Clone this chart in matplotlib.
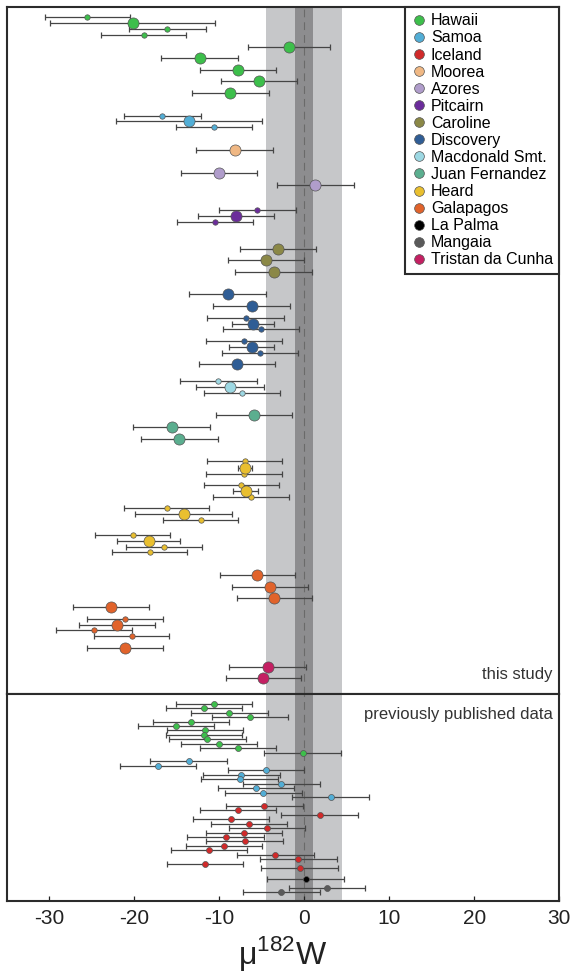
import matplotlib
matplotlib.use('Agg')
import matplotlib.pyplot as plt
from matplotlib.lines import Line2D

plt.rcParams['font.family'] = ['Liberation Sans', 'DejaVu Sans']
plt.rcParams['mathtext.fontset'] = 'custom'
plt.rcParams['mathtext.rm'] = 'Liberation Sans'
plt.rcParams['axes.unicode_minus'] = False

# ---- this study: mu182W, 2SD, row position (from top), replicate average (1) or single run (0)
hawaii_w = [-25.5, -20.2, -16.1, -18.9, -1.8, -12.3, -7.8, -5.3, -8.7]
hawaii_sd = [5.0, 9.7, 4.5, 5.0, 4.8, 4.5, 4.5, 4.5, 4.5]
hawaii_row = [10.3, 16.3, 22, 27.7, 39.7, 50.7, 63, 74, 85.7]
hawaii_avg = [0, 1, 0, 0, 1, 1, 1, 1, 1]

samoa_w = [-16.7, -13.6, -10.6]
samoa_sd = [4.5, 8.6, 4.5]
samoa_row = [108.7, 114.3, 120]
samoa_avg = [0, 1, 0]

moorea_w = [-8.2]
moorea_sd = [4.5]
moorea_row = [143.3]
moorea_avg = [1]

azores_w = [-10.0, 1.3]
azores_sd = [4.5, 4.5]
azores_row = [165.7, 178.3]
azores_avg = [1, 1]

pitcairn_w = [-5.5, -8.0, -10.5]
pitcairn_sd = [4.5, 4.5, 4.5]
pitcairn_row = [203.3, 209.3, 215]
pitcairn_avg = [0, 1, 0]

caroline_w = [-3.1, -4.5, -3.6]
caroline_sd = [4.5, 4.5, 4.5]
caroline_row = [242, 253.3, 265]
caroline_avg = [1, 1, 1]

discovery_w = [-9.0, -6.2, -6.9, -6.0, -5.1, -7.1, -6.2, -5.2, -7.9]
discovery_sd = [4.5, 4.5, 4.5, 2.5, 4.5, 4.5, 2.65, 4.5, 4.5]
discovery_row = [287.3, 299, 311, 316.7, 322.3, 334, 340, 345.7, 357]
discovery_avg = [1, 1, 0, 1, 0, 0, 1, 0, 1]

macdonald_w = [-10.1, -8.7, -7.3]
macdonald_sd = [4.5, 4.0, 4.5]
macdonald_row = [374.3, 380, 385.7]
macdonald_avg = [0, 1, 0]

juan_w = [-5.9, -15.6, -14.7]
juan_sd = [4.5, 4.5, 4.5]
juan_row = [408.3, 420.3, 431.7]
juan_avg = [1, 1, 1]

heard_w = [-7.0, -7.0, -7.1, -7.4, -6.9, -6.3, -16.2, -14.2, -12.2, -20.2, -18.3, -16.5, -18.2]
heard_sd = [4.4, 0.8, 4.5, 4.45, 1.5, 4.45, 5.0, 5.65, 4.45, 4.45, 3.7, 4.45, 4.45]
heard_row = [454, 461, 466.5, 477.7, 484, 489.7, 501, 507, 512.7, 528, 534, 539.7, 545.3]
heard_avg = [0, 1, 0, 0, 1, 0, 0, 1, 0, 0, 1, 0, 0]

galapagos_w = [-5.5, -4.0, -3.5, -22.7, -21.1, -22.0, -24.7, -20.3, -21.1]
galapagos_sd = [4.45, 4.45, 4.45, 4.45, 4.45, 4.45, 4.45, 4.45, 4.45]
galapagos_row = [568.3, 580, 591.3, 600, 611.7, 617.7, 623.3, 629, 641.3]
galapagos_avg = [1, 1, 1, 1, 0, 1, 0, 0, 1]

tristan_w = [-4.3, -4.8]
tristan_sd = [4.5, 4.45]
tristan_row = [659.7, 671]
tristan_avg = [1, 1]

# ---- previously published data
pub_hawaii_w = [-10.6, -11.8, -8.8, -6.4, -13.3, -15.1, -11.7, -11.8, -11.4, -10.0, -7.8, -0.2]
pub_hawaii_row = [9.7, 14.3, 18.7, 23, 27.7, 32, 36.3, 40.7, 45.3, 49.7, 54, 58.7]

pub_samoa_w = [-13.6, -17.2, -4.5, -7.4, -7.6, -2.7, -5.7, -4.8, 3.1]
pub_samoa_row = [67.3, 72, 76.3, 80.7, 85.3, 89.7, 94.3, 98.7, 103]

pub_iceland_w = [-4.7, -7.8, 1.8, -8.6, -6.5, -4.4, -7.1, -9.25, -7.0, -9.45,
                 -11.2, -3.4, -0.7, -11.65, -0.55]
pub_iceland_row = [112, 116.3, 121, 125.3, 129.7, 134, 138.7, 143, 147.3, 152,
                   156.3, 161, 165.3, 169.7, 174.3]

pub_lapalma_w = [0.15]
pub_lapalma_row = [185]

pub_mangaia_w = [2.7, -2.7]
pub_mangaia_row = [194, 198.3]

pub_sd = 4.5

# modern mantle reference: mean, band half widths
mantle_mean = 0.0
mantle_outer = 4.5
mantle_inner = 1.05

islands = ['Hawaii', 'Samoa', 'Iceland', 'Moorea', 'Azores', 'Pitcairn', 'Caroline',
           'Discovery', 'Macdonald Smt.', 'Juan Fernandez', 'Heard', 'Galapagos',
           'La Palma', 'Mangaia', 'Tristan da Cunha']
colors = {'Hawaii': '#3dbf4b', 'Samoa': '#52aed6', 'Iceland': '#d12a2a',
          'Moorea': '#f0b884', 'Azores': '#b09dcb', 'Pitcairn': '#6b2c9b',
          'Caroline': '#8b8847', 'Discovery': '#2f5d95', 'Macdonald Smt.': '#9dd8e3',
          'Juan Fernandez': '#5bae8f', 'Heard': '#e9bf2f', 'Galapagos': '#e1632b',
          'La Palma': '#000000', 'Mangaia': '#5a5a5a', 'Tristan da Cunha': '#c41f62'}

bar_col = '#454545'
edge_col = '#555555'


def draw(ax, vals, errs, rows, avgs, color, small=3.9, big=8.0):
    for v, e, r, a in zip(vals, errs, rows, avgs):
        ax.errorbar(v, r, xerr=e, fmt='none', ecolor=bar_col, elinewidth=0.9,
                    capsize=2.3, capthick=0.9, zorder=2)
    for v, r, a in zip(vals, rows, avgs):
        ax.plot(v, r, 'o', ms=big if a else small, mfc=color, mec=edge_col,
                mew=0.5, zorder=4 if a else 3)


fig = plt.figure(figsize=(5.77, 9.72), dpi=100)
gs = fig.add_gridspec(2, 1, height_ratios=[687, 207], hspace=0,
                      left=0.0116, right=0.9693, top=0.9928, bottom=0.0730)
ax1 = fig.add_subplot(gs[0])
ax2 = fig.add_subplot(gs[1])

for ax in (ax1, ax2):
    ax.axvspan(mantle_mean - mantle_outer, mantle_mean + mantle_outer,
               color='#c6c7c9', lw=0, zorder=0)
    ax.axvspan(mantle_mean - mantle_inner, mantle_mean + mantle_inner,
               color='#8d8d8f', lw=0, zorder=0.5)
    ax.axvline(mantle_mean, color='#6a6a6a', lw=0.8, ls=(0, (7, 4.5)), zorder=1)
    ax.set_xlim(-35, 30)
    ax.set_yticks([])
    for s in ax.spines.values():
        s.set_linewidth(1.5)
        s.set_color('#2b2b2b')

draw(ax1, hawaii_w, hawaii_sd, hawaii_row, hawaii_avg, colors['Hawaii'])
draw(ax1, samoa_w, samoa_sd, samoa_row, samoa_avg, colors['Samoa'])
draw(ax1, moorea_w, moorea_sd, moorea_row, moorea_avg, colors['Moorea'])
draw(ax1, azores_w, azores_sd, azores_row, azores_avg, colors['Azores'])
draw(ax1, pitcairn_w, pitcairn_sd, pitcairn_row, pitcairn_avg, colors['Pitcairn'])
draw(ax1, caroline_w, caroline_sd, caroline_row, caroline_avg, colors['Caroline'])
draw(ax1, discovery_w, discovery_sd, discovery_row, discovery_avg, colors['Discovery'])
draw(ax1, macdonald_w, macdonald_sd, macdonald_row, macdonald_avg, colors['Macdonald Smt.'])
draw(ax1, juan_w, juan_sd, juan_row, juan_avg, colors['Juan Fernandez'])
draw(ax1, heard_w, heard_sd, heard_row, heard_avg, colors['Heard'])
draw(ax1, galapagos_w, galapagos_sd, galapagos_row, galapagos_avg, colors['Galapagos'])
draw(ax1, tristan_w, tristan_sd, tristan_row, tristan_avg, colors['Tristan da Cunha'])
ax1.set_ylim(687, 0)
ax1.tick_params(axis='x', bottom=False, labelbottom=False)

for vals, rows, name in [(pub_hawaii_w, pub_hawaii_row, 'Hawaii'),
                         (pub_samoa_w, pub_samoa_row, 'Samoa'),
                         (pub_iceland_w, pub_iceland_row, 'Iceland'),
                         (pub_lapalma_w, pub_lapalma_row, 'La Palma'),
                         (pub_mangaia_w, pub_mangaia_row, 'Mangaia')]:
    draw(ax2, vals, [pub_sd] * len(vals), rows, [0] * len(vals), colors[name], small=4.3)
ax2.set_ylim(207, 0)
ax2.set_xticks([-30, -20, -10, 0, 10, 20, 30])
ax2.tick_params(axis='x', direction='in', length=3.5, width=0.9, pad=6,
                labelsize=15, colors='#222222')
ax2.set_xlabel('μ$^{182}$W', fontsize=23, labelpad=4, color='#222222')

ax1.text(0.988, 0.028, 'this study', transform=ax1.transAxes, ha='right',
         va='center', fontsize=12, color='#333333')
ax2.text(0.988, 0.90, 'previously published data', transform=ax2.transAxes,
         ha='right', va='center', fontsize=12, color='#333333')

handles = [Line2D([], [], marker='o', ls='none', mfc=colors[n], mec=edge_col,
                  mew=0.5, ms=7.0) for n in islands]
leg = ax1.legend(handles, islands, loc='upper right', bbox_to_anchor=(1, 1),
                 borderaxespad=0, fontsize=11.5, labelspacing=0.13, handlelength=0.9,
                 handletextpad=0.3, borderpad=0.4, fancybox=False, framealpha=1)
leg.get_frame().set_edgecolor('#2b2b2b')
leg.get_frame().set_linewidth(1.5)
leg.set_zorder(10)

fig.savefig('out.png', dpi=100)
